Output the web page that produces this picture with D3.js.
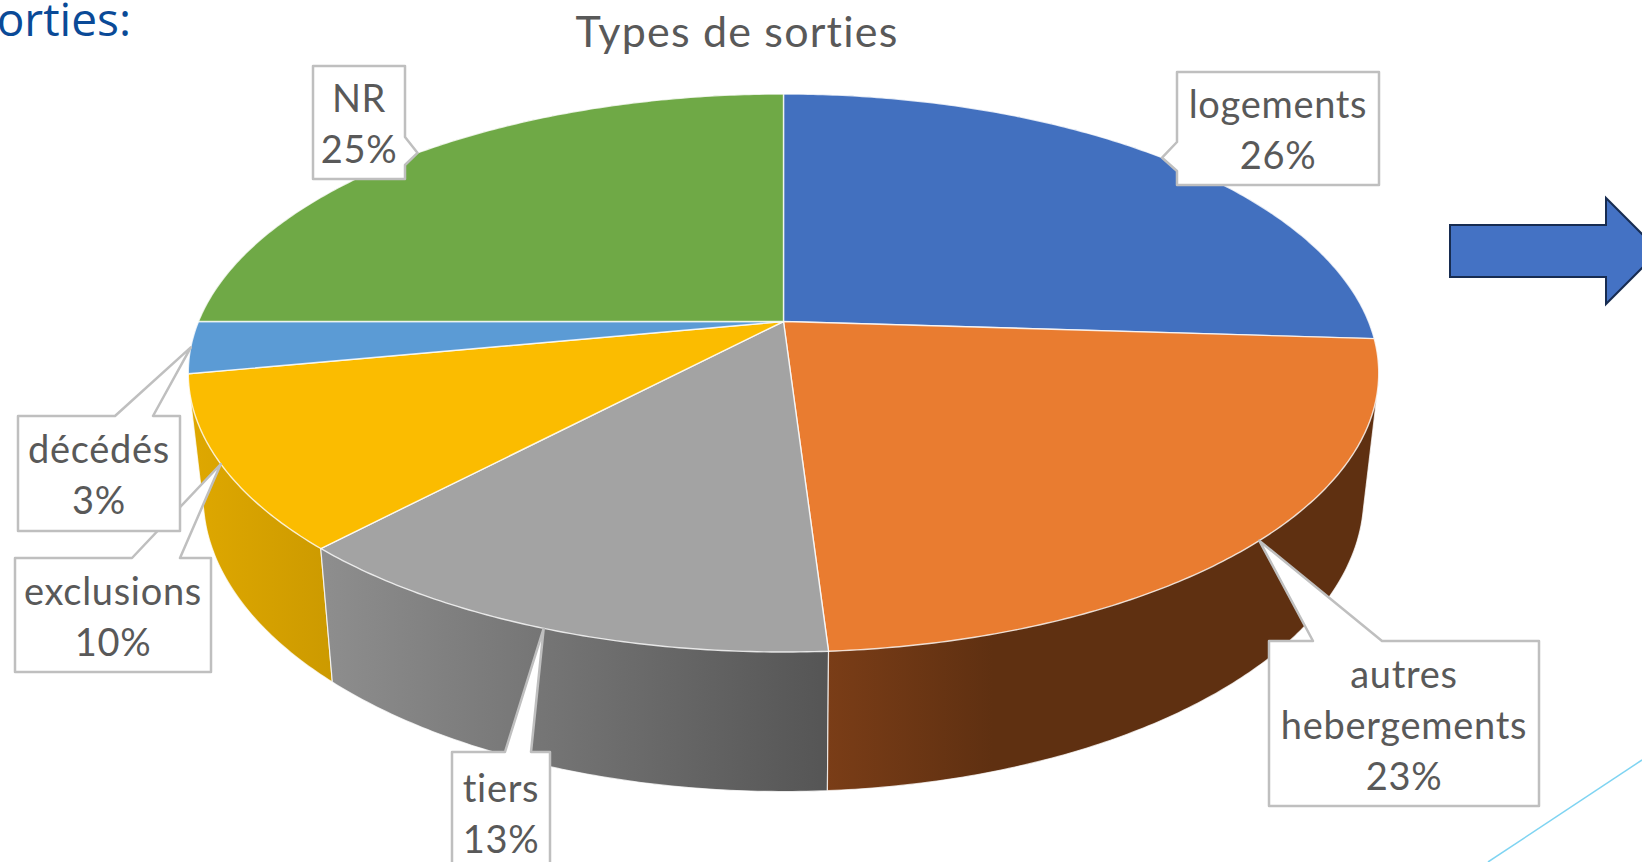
<!DOCTYPE html>
<html>
<head>
<meta charset="utf-8">
<script src="https://cdn.jsdelivr.net/npm/d3@7"></script>
<style>
html, body { margin: 0; padding: 0; background: #fff; overflow: hidden; }
text { font-family: Lato, "Open Sans", sans-serif; font-variant-ligatures: none; }
</style>
</head>
<body>
<div id="chart"></div>
<script>
const WIDTH = 1642;
const HEIGHT = 862;

const categories = ["logements", "autres hebergements", "tiers", "exclusions", "décédés", "NR"];
const values = [26, 23, 13, 10, 3, 25];
const labelLines = [["logements"], ["autres", "hebergements"], ["tiers"], ["exclusions"], ["décédés"], ["NR"]];
const topColors = ["#4270bf", "#e97c30", "#a3a3a3", "#fbbc00", "#5b9bd5", "#6fa946"];
const wallStart = ["#2f5597", "#7a3d17", "#8e8e8e", "#dfa800", "#3f7ab5", "#4f7d32"];
const wallEnd = ["#2f5597", "#5f3011", "#555555", "#cc9a00", "#3f7ab5", "#4f7d32"];
// back to front, so the nearer walls stay on top
const wallOrder = [0, 5, 4, 3, 2, 1];

// callout boxes and where the pointer leaves the box
const boxes = [
    { x: 1177, y: 72, w: 202, h: 113, side: "left", a: 142, b: 171 },
    { x: 1269, y: 641, w: 270, h: 165, side: "top", a: 1313, b: 1382 },
    { x: 452, y: 752, w: 98, h: 120, side: "top", a: 505, b: 531 },
    { x: 15, y: 558, w: 196, h: 114, side: "top", a: 132, b: 180 },
    { x: 18, y: 416, w: 162, h: 115, side: "top", a: 115, b: 153 },
    { x: 313, y: 66, w: 92, h: 113, side: "right", a: 137, b: 165 }
];

// perspective pie: apex, half axes, tilt
const CX = 783.5;
const TOP_Y = 321.5;
const BOTTOM_Y = 442;
const RX = 585;
const RY_TOP = 269.5;
const RY_BOTTOM = 285;
const RX_BOTTOM_SCALE = 0.975;
const TILT = 0.1846;

var projectTop = function (a) {
    var u = Math.sin(a), v = -Math.cos(a), w = 1 - TILT * v;
    return [CX + RX * u / w, TOP_Y + RY_TOP * v / w];
};

var projectBottom = function (a) {
    var u = Math.sin(a), v = -Math.cos(a), w = 1 - TILT * v;
    return [CX + RX * RX_BOTTOM_SCALE * u / w, BOTTOM_Y + RY_BOTTOM * v / w];
};

var arcAngles = function (d) {
    var n = Math.max(2, Math.ceil((d.endAngle - d.startAngle) / 0.01));
    return d3.range(n + 1).map(function (i) {
        return d.startAngle + (d.endAngle - d.startAngle) * i / n;
    });
};

var line = d3.line();

var svg = d3.select("#chart").append("svg")
    .attr("width", WIDTH)
    .attr("height", HEIGHT)
    .style("display", "block");

var slices = d3.pie().sort(null)(values);
var defs = svg.append("defs");

// walls first, the top covers what is behind
var walls = svg.append("g");
wallOrder.forEach(function (i) {
    var d = slices[i];
    var angles = arcAngles(d);
    // hull gives the straight silhouette between top rim and bottom rim
    var pts = d3.polygonHull(angles.map(projectTop).concat(angles.map(projectBottom)));
    var xs = d3.extent(pts, function (p) { return p[0]; });
    var grad = defs.append("linearGradient")
        .attr("id", "wall" + i)
        .attr("gradientUnits", "userSpaceOnUse")
        .attr("x1", xs[0]).attr("x2", xs[1]).attr("y1", 0).attr("y2", 0);
    grad.append("stop").attr("offset", 0).attr("stop-color", wallStart[i]);
    // the orange wall goes dark quickly
    if (i === 1) {
        grad.append("stop").attr("offset", 0.3).attr("stop-color", wallEnd[i]);
    }
    grad.append("stop").attr("offset", 1).attr("stop-color", wallEnd[i]);
    walls.append("path")
        .attr("d", line(pts) + "Z")
        .attr("fill", "url(#wall" + i + ")")
        .attr("stroke", "#fff")
        .attr("stroke-opacity", 0.75)
        .attr("stroke-width", 1.2);
});

svg.append("g").selectAll("path")
    .data(slices)
    .enter()
    .append("path")
    .attr("d", function (d) {
        return line([[CX, TOP_Y]].concat(arcAngles(d).map(projectTop))) + "Z";
    })
    .attr("fill", function (d, i) { return topColors[i]; })
    .attr("stroke", "#fff")
    .attr("stroke-opacity", 0.8)
    .attr("stroke-width", 1.4)
    .attr("stroke-linejoin", "round");

// callouts, tip sits on the rim at the middle of the slice
var calloutPath = function (box, tip) {
    var x0 = box.x, x1 = box.x + box.w, y0 = box.y, y1 = box.y + box.h;
    var pts;
    if (box.side === "top") {
        pts = [[x0, y0], [box.a, y0], tip, [box.b, y0], [x1, y0], [x1, y1], [x0, y1]];
    } else if (box.side === "left") {
        pts = [[x0, y0], [x1, y0], [x1, y1], [x0, y1], [x0, box.b], tip, [x0, box.a]];
    } else {
        pts = [[x0, y0], [x1, y0], [x1, box.a], tip, [x1, box.b], [x1, y1], [x0, y1]];
    }
    return line(pts) + "Z";
};

var LINE_HEIGHT = 51;
var labels = svg.append("g");
slices.forEach(function (d, i) {
    var box = boxes[i];
    var tip = projectTop((d.startAngle + d.endAngle) / 2);
    var g = labels.append("g");
    g.append("path")
        .attr("d", calloutPath(box, tip))
        .attr("fill", "#fff")
        .attr("stroke", "#bfbfbf")
        .attr("stroke-width", 2.5)
        .attr("stroke-linejoin", "round");
    var lines = labelLines[i].concat([values[i] + "%"]);
    var midY = box.y + box.h / 2;
    lines.forEach(function (txt, j) {
        g.append("text")
            .attr("x", box.x + box.w / 2)
            .attr("y", midY - (lines.length - 1) / 2 * LINE_HEIGHT + j * LINE_HEIGHT + 15)
            .attr("text-anchor", "middle")
            .attr("font-size", 38)
            .attr("letter-spacing", 0.7)
            .attr("fill", "#595959")
            .text(txt);
    });
});

svg.append("text")
    .attr("x", 737)
    .attr("y", 47)
    .attr("text-anchor", "middle")
    .attr("font-size", 43)
    .attr("letter-spacing", 1.2)
    .attr("fill", "#595959")
    .text("Types de sorties");

svg.append("text")
    .attr("x", 131)
    .attr("y", 36)
    .attr("text-anchor", "end")
    .attr("font-size", 46)
    .style("font-family", "'Open Sans', sans-serif")
    .attr("fill", "#0a4a97")
    .text("orties:");

// slide decorations
svg.append("path")
    .attr("d", line([[1450, 225], [1606, 225], [1606, 198], [1659, 251], [1606, 304], [1606, 277], [1450, 277]]) + "Z")
    .attr("fill", "#4472c4")
    .attr("stroke", "#172c51")
    .attr("stroke-width", 2);

svg.append("path")
    .attr("d", line([[1488, 862], [1642, 760]]))
    .attr("fill", "none")
    .attr("stroke", "#7fd4f2")
    .attr("stroke-width", 1.5);
</script>
</body>
</html>
